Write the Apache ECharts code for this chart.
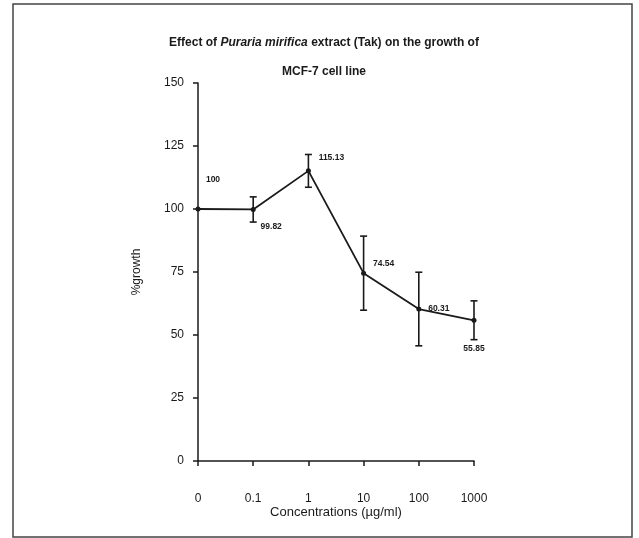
<!DOCTYPE html>
<html>
<head>
<meta charset="utf-8">
<script src="https://cdn.jsdelivr.net/npm/echarts@6/dist/echarts.min.js"></script>
<style>
  html, body { margin: 0; padding: 0; background: #fff; }
  #chart { width: 639px; height: 538px; }
</style>
</head>
<body>
<div id="chart"></div>
<script>
// concentrations (µg/ml) and mean % growth with SD
const concentrations = ['0', '0.1', '1', '10', '100', '1000']
const growth = [100, 99.82, 115.13, 74.54, 60.31, 55.85]
const growthErr = [0, 5, 6.5, 14.7, 14.6, 7.7]
const yTicks = [0, 25, 50, 75, 100, 125, 150]

const chart = echarts.init(document.getElementById('chart'), null, { renderer: 'canvas' })

const ink = '#1a1a1a'
const font = '"Liberation Sans", Arial, sans-serif'

// where each value label sits relative to its point
const labelOffsets = [[15, -29], [18, 17], [23, -13], [20, -10], [20, 0], [0, 28]]

function errorBar(params, api) {
  const i = api.value(0)
  const v = api.value(1)
  const e = api.value(2)
  if (!e) return null
  const top = api.coord([i, v + e])
  const bot = api.coord([i, v - e])
  const w = 3.5
  const style = { stroke: ink, lineWidth: 1.6 }
  return {
    type: 'group',
    children: [
      { type: 'line', shape: { x1: top[0], y1: top[1], x2: bot[0], y2: bot[1] }, style },
      { type: 'line', shape: { x1: top[0] - w, y1: top[1], x2: top[0] + w, y2: top[1] }, style },
      { type: 'line', shape: { x1: bot[0] - w, y1: bot[1], x2: bot[0] + w, y2: bot[1] }, style },
    ],
  }
}

const option = {
  backgroundColor: '#fff',
  animation: false,
  title: [
    {
      text: '{a|Effect of }{i|Puraria mirifica}{a| extract (Tak) on the growth of}',
      left: 319,
      top: 32,
      textAlign: 'center',
      textStyle: {
        rich: {
          a: { fontFamily: font, fontSize: 12, fontWeight: 'bold', color: ink },
          i: { fontFamily: font, fontSize: 12, fontStyle: 'italic', color: ink },
        },
      },
    },
    {
      text: 'MCF-7 cell line',
      left: 319,
      top: 61,
      textAlign: 'center',
      textStyle: { fontFamily: font, fontSize: 12, fontWeight: 'bold', color: ink },
    },
  ],
  graphic: [
    {
      type: 'rect',
      shape: { x: 13, y: 4, width: 619, height: 533 },
      style: { fill: 'none', stroke: '#444', lineWidth: 1.5 },
      silent: true,
    },
  ],
  grid: { left: 198, right: 165, top: 83, bottom: 77 },
  xAxis: {
    type: 'category',
    data: concentrations,
    boundaryGap: false,
    name: 'Concentrations (\u00b5g/ml)',
    nameLocation: 'middle',
    nameGap: 45,
    nameMoveOverlap: false,
    nameTextStyle: { fontFamily: font, fontSize: 13, color: ink },
    axisLine: { lineStyle: { color: ink, width: 1.5 } },
    axisTick: { length: 5, lineStyle: { color: ink, width: 1.5 } },
    axisLabel: { fontFamily: font, fontSize: 12, color: ink, margin: 32 },
    splitLine: { show: false },
  },
  yAxis: {
    type: 'value',
    min: yTicks[0],
    max: yTicks[yTicks.length - 1],
    interval: yTicks[1] - yTicks[0],
    name: '%growth',
    nameLocation: 'middle',
    nameGap: 55,
    nameTextStyle: { fontFamily: font, fontSize: 12, color: ink },
    axisLine: { show: true, lineStyle: { color: ink, width: 1.5 } },
    axisTick: { show: true, length: 5, lineStyle: { color: ink, width: 1.5 } },
    axisLabel: { fontFamily: font, fontSize: 12, color: ink, margin: 14 },
    splitLine: { show: false },
  },
  series: [
    {
      type: 'line',
      data: growth.map((v, i) => ({
        value: v,
        label: {
          show: true,
          position: 'inside',
          offset: labelOffsets[i],
          formatter: String(v),
        },
      })),
      symbol: 'circle',
      symbolSize: 5,
      lineStyle: { color: ink, width: 1.8 },
      itemStyle: { color: ink },
      label: { fontFamily: font, fontSize: 8.5, fontWeight: 'bold', color: ink },
      z: 3,
    },
    {
      type: 'custom',
      data: growth.map((v, i) => [i, v, growthErr[i]]),
      renderItem: errorBar,
      z: 2,
    },
  ],
}

chart.setOption(option)
</script>
</body>
</html>
